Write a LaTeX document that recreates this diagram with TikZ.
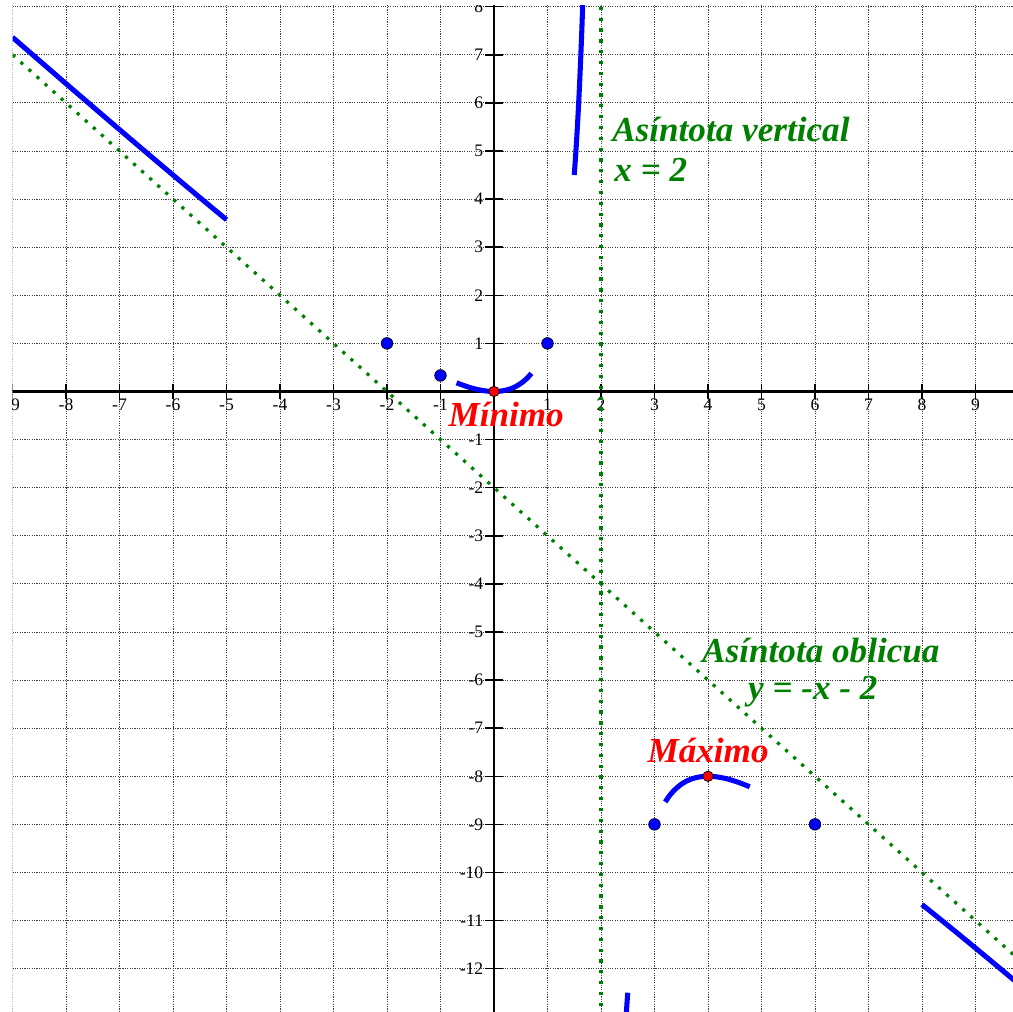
\documentclass[tikz,border=0pt]{standalone}
\usepackage{fontspec}
\setmainfont{Liberation Serif}
\begin{document}
\begin{tikzpicture}[x=1.3375cm,y=1.2025cm,line width=0.82pt]
\tikzset{gridline/.style={black!75,line width=0.6pt,dash pattern=on 0.8pt off 0.9pt},
  axisline/.style={black,line width=2pt},
  tickmark/.style={black,line width=1.1pt},
  asym/.style={green!50!black,line width=2.3pt,dash pattern=on 2.3pt off 5.4pt},
  curve/.style={blue,line width=3.6pt},
  ticklab/.style={inner sep=0pt,font=\fontsize{12.5}{14}\selectfont},
  ptdot/.style={circle,draw=black,line width=0.5pt,fill=blue,inner sep=0pt,minimum size=0.29cm},
  extdot/.style={circle,draw=black,line width=0.5pt,fill=red,inner sep=0pt,minimum size=0.26cm},
  greentxt/.style={inner sep=0pt,anchor=base west,text=green!50!black,font=\fontsize{25}{30}\selectfont\bfseries\itshape},
  redtxt/.style={inner sep=0pt,anchor=base west,text=red,font=\fontsize{25}{30}\selectfont\bfseries\itshape}}
\useasboundingbox (-9.234,-12.90) rectangle (9.701,8.139);
\clip (-9,-12.90) rectangle (9.701,8.03);
% grid and axes
\draw[gridline,step={(1,1)}] (-9,-12.90) grid (9.701,8.03);
\draw[axisline] (-9.3,0) -- (9.8,0);
\draw[axisline] (0,-13) -- (0,8.2);
\foreach \i in {-9,...,9} {
  \ifnum\i=0\else
    \draw[tickmark] (\i,-0.16) -- (\i,0.16);
    \node[ticklab,anchor=north] (xl\i) at (\i,-0.135) {\i};
  \fi}
\foreach \j in {-12,...,8} {
  \ifnum\j=0\else
    \draw[tickmark] (-0.16,\j) -- (0.16,\j);
    \node[ticklab,anchor=east] (yl\j) at (-0.19,\j) {\j};
  \fi}
% asymptotes
\draw[asym] (2,-13) -- (2,8.2);
\draw[asym] (-9.3,7.3) -- (9.8,-11.8);
% f(x) = x^2/(2-x)
\draw[curve] plot[domain=-9:-5,samples=30] (\x,{\x*\x/(2-\x)});
\draw[curve] plot[domain=1.5:1.69,samples=30,smooth] (\x,{\x*\x/(2-\x)});
\draw[curve] plot[domain=-0.7:0.7,samples=30,smooth] (\x,{\x*\x/(2-\x)});
\draw[curve] plot[domain=3.2:4.78,samples=30,smooth] (\x,{\x*\x/(2-\x)});
\draw[curve] plot[domain=2.46:2.5,samples=5] (\x,{\x*\x/(2-\x)});
\draw[curve] plot[domain=8:9.8,samples=20] (\x,{\x*\x/(2-\x)});
% points
\foreach \px/\py [count=\k] in {-2/1,-1/0.3333,1/1,3/-9,6/-9}
  \node[ptdot] (pt\k) at (\px,\py) {};
\node[extdot] (mini) at (0,0) {};
\node[extdot] (maxi) at (4,-8) {};
% labels
\node[greentxt] (vlab) at (2.2,5.19) {Asíntota vertical};
\node[greentxt] (veq) at (2.24,4.36) {x = 2};
\node[greentxt,anchor=base] (olab) at (6.11,-5.64) {Asíntota oblicua};
\node[greentxt,anchor=base] (oeq) at (5.96,-6.41) {y = -x - 2};
\node[redtxt] (minlab) at (-0.86,-0.738) {Mínimo};
\node[redtxt] (maxlab) at (2.86,-7.72) {Máximo};
\end{tikzpicture}
\end{document}
